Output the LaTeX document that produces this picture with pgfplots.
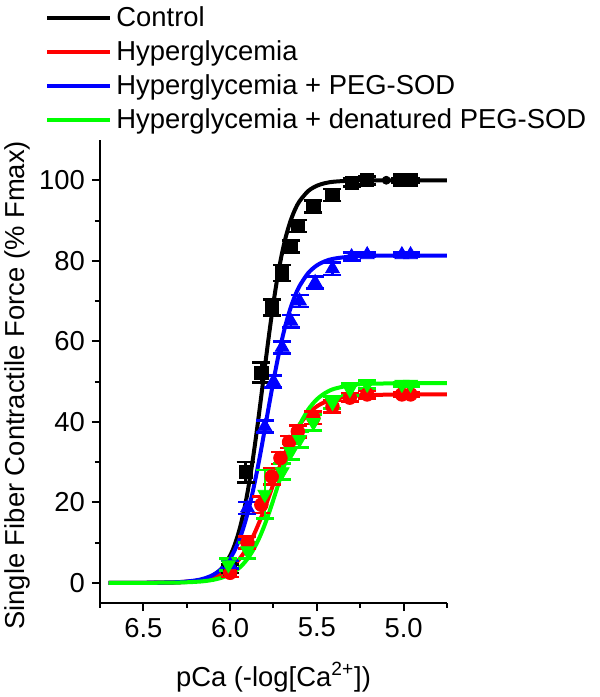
\documentclass[border=0pt]{standalone}
\usepackage{fontspec}
\setmainfont{Liberation Sans}
\usepackage{pgfplots}
\pgfplotsset{compat=1.18}
\definecolor{cgreen}{RGB}{0,255,0}
\definecolor{cred}{RGB}{255,0,0}
\definecolor{cblue}{RGB}{0,0,255}
\newcommand{\fs}{\fontsize{13.7}{16}\selectfont}
\begin{document}
\begin{tikzpicture}
\useasboundingbox (0,0) rectangle (300pt,348.5pt);
\begin{axis}[
 at={(50pt,47pt)}, anchor=south west,
 scale only axis, width=173.5pt, height=231.5pt,
 x dir=reverse, xmin=4.75, xmax=6.75, ymin=-5, ymax=110,
 axis x line*=bottom, axis y line*=left,
 axis line style={line width=1.25pt},
 tick align=outside,
 xtick={5,5.5,6,6.5}, minor xtick={4.75,5.25,5.75,6.25,6.75},
 ytick={0,20,...,100}, minor ytick={10,30,50,70,90},
 major tick length=4pt, minor tick length=2.5pt,
 every tick/.style={black, line width=1pt},
 xticklabel style={/pgf/number format/.cd, fixed, fixed zerofill, precision=1},
 /pgf/number format/assume math mode=true,
 tick label style={font=\fs},
 label style={font=\fs},
 xlabel={pCa (-log[Ca\textsuperscript{2+}])},
 ylabel={Single Fiber Contractile Force (\% Fmax)},
 x label style={at={(axis description cs:0.5,-0.16)}, anchor=center},
 y label style={at={(axis description cs:-0.239,0.47)}, anchor=center},
 legend cell align=left,
 legend style={draw=none, fill=none, font=\fs, at={(axis description cs:-0.1585,1.297)}, anchor=north west, inner sep=0pt, row sep=1.6pt},
 legend image code/.code={\draw[#1, line width=2pt] (0pt,0pt) -- (31.5pt,0pt);},
 error bars/error bar style={line width=1.3pt},
]
% fitted curves
\addplot[black, line width=2pt, smooth] coordinates {
(6.70,0)(6.5,0.01)(6.3,0.12)(6.2,0.46)(6.15,0.90)(6.1,1.79)(6.05,3.50)(6.0,6.76)(5.975,9.28)(5.95,12.63)(5.925,16.95)(5.9,22.39)(5.875,28.95)(5.85,36.52)(5.825,44.84)(5.8,53.45)(5.775,61.86)(5.75,69.61)(5.725,76.39)(5.7,82.05)(5.675,86.59)(5.65,90.12)(5.625,92.80)(5.6,94.79)(5.55,97.32)(5.5,98.64)(5.45,99.31)(5.4,99.65)(5.3,99.91)(5.2,99.98)(5.0,100)(4.75,100)};
\addlegendentry{Control}
\addplot[cred, line width=2pt, smooth] coordinates {
(6.70,0)(6.5,0.02)(6.3,0.17)(6.2,0.49)(6.15,0.81)(6.1,1.34)(6.05,2.21)(6.0,3.60)(5.975,4.55)(5.95,5.73)(5.925,7.17)(5.9,8.89)(5.875,10.90)(5.85,13.22)(5.825,15.81)(5.8,18.62)(5.775,21.59)(5.75,24.61)(5.725,27.60)(5.7,30.45)(5.675,33.09)(5.65,35.46)(5.625,37.53)(5.6,39.31)(5.55,42.03)(5.5,43.84)(5.45,44.99)(5.4,45.70)(5.3,46.41)(5.2,46.66)(5.0,46.78)(4.75,46.8)};
\addlegendentry{Hyperglycemia}
\addplot[cblue, line width=2pt, smooth] coordinates {
(6.70,0)(6.5,0.02)(6.3,0.18)(6.2,0.60)(6.15,1.08)(6.1,1.94)(6.05,3.46)(6.0,6.09)(5.975,8.00)(5.95,10.43)(5.925,13.47)(5.9,17.18)(5.875,21.58)(5.85,26.65)(5.825,32.25)(5.8,38.22)(5.775,44.29)(5.75,50.21)(5.725,55.72)(5.7,60.66)(5.675,64.92)(5.65,68.49)(5.625,71.40)(5.6,73.72)(5.55,76.95)(5.5,78.85)(5.45,79.94)(5.4,80.54)(5.3,81.07)(5.2,81.23)(5.0,81.3)(4.75,81.3)};
\addlegendentry{Hyperglycemia + PEG-SOD}
\addplot[cgreen, line width=2pt, smooth] coordinates {
(6.70,0)(6.5,0.01)(6.3,0.08)(6.2,0.25)(6.15,0.42)(6.1,0.73)(6.05,1.26)(6.0,2.15)(5.975,2.79)(5.95,3.62)(5.925,4.66)(5.9,5.97)(5.875,7.58)(5.85,9.53)(5.825,11.83)(5.8,14.50)(5.775,17.48)(5.75,20.73)(5.725,24.11)(5.7,27.53)(5.675,30.84)(5.65,33.94)(5.625,36.74)(5.6,39.19)(5.55,43.03)(5.5,45.59)(5.45,47.21)(5.4,48.20)(5.3,49.13)(5.2,49.44)(5.0,49.58)(4.75,49.6)};
\addlegendentry{Hyperglycemia + denatured PEG-SOD}
% data points
\addplot[forget plot, only marks, black, mark=square*, mark size=3.3pt,
 error bars/.cd, y dir=both, y explicit, error mark options={rotate=90, mark size=4.5pt, line width=1.3pt, black}] coordinates {
(6.00,3.5)+-(0,1)(5.91,27.5)+-(0,2.5)(5.82,52.2)+-(0,2.5)(5.76,68.4)+-(0,2)(5.70,77)+-(0,2)(5.65,83.5)+-(0,1.5)(5.61,88.6)+-(0,1.5)(5.52,93.5)+-(0,1.5)(5.41,96.3)+-(0,1.5)(5.30,99.4)+-(0,1)(5.21,100)+-(0,1)(5.02,100)+-(0,0.5)(4.96,100)+-(0,0.5)};
\addplot[forget plot, only marks, black, mark=*, mark size=2pt] coordinates {(5.10,100)};
\addplot[forget plot, only marks, cred, mark=*, mark size=3.4pt,
 error bars/.cd, y dir=both, y explicit, error mark options={rotate=90, mark size=4.5pt, line width=1.3pt, cred}] coordinates {
(6.00,2.5)+-(0,1)(5.90,10)+-(0,1.5)(5.82,19.4)+-(0,2)(5.76,26.4)+-(0,2)(5.71,31)+-(0,1.5)(5.66,35)+-(0,1.5)(5.61,37.6)+-(0,1.5)(5.52,41)+-(0,1.5)(5.41,43.8)+-(0,1.5)(5.31,46)+-(0,1)(5.21,46.8)+-(0,1)(5.01,46.8)+-(0,0.5)(4.96,46.8)+-(0,0.5)};
\addplot[forget plot, only marks, cblue, mark=triangle*, mark size=4pt,
 error bars/.cd, y dir=both, y explicit, error mark options={rotate=90, mark size=4.5pt, line width=1.3pt, cblue}] coordinates {
(6.00,4.5)+-(0,1)(5.90,18.6)+-(0,1.5)(5.80,38.8)+-(0,1.5)(5.75,50)+-(0,1.5)(5.70,58.5)+-(0,1.5)(5.65,65)+-(0,1.5)(5.60,70)+-(0,1.5)(5.51,74.6)+-(0,1.5)(5.41,78)+-(0,1.5)(5.30,81)+-(0,1)(5.21,81.5)+-(0,0.5)(5.01,81.5)+-(0,0.5)(4.96,81.5)+-(0,0.5)};
\addplot[forget plot, only marks, cgreen, mark=triangle*, mark size=4pt, mark options={rotate=180},
 error bars/.cd, y dir=both, y explicit, error mark options={rotate=90, mark size=4.5pt, line width=1.3pt, cgreen}] coordinates {
(6.01,4.5)+-(0,1.5)(5.90,8)+-(0,2)(5.80,22)+-(0,6)(5.70,27.6)+-(0,2)(5.65,32.6)+-(0,2)(5.60,35.6)+-(0,2)(5.52,39.8)+-(0,2)(5.41,44.8)+-(0,1.5)(5.31,48)+-(0,1.5)(5.21,49.3)+-(0,1)(5.01,49.3)+-(0,0.5)(4.96,49.3)+-(0,0.5)};
\end{axis}
\end{tikzpicture}
\end{document}
